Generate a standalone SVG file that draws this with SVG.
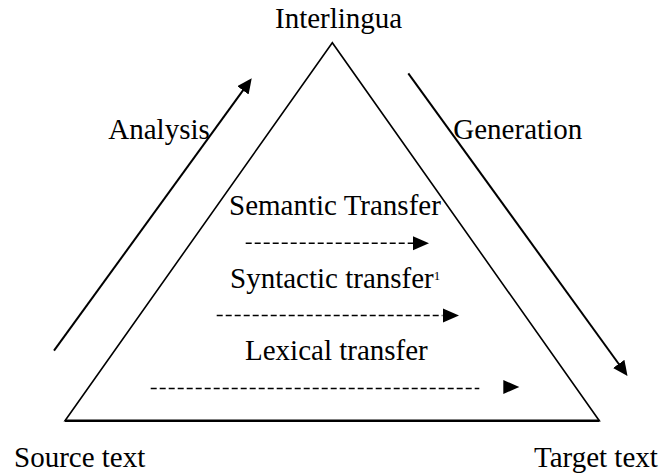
<svg xmlns="http://www.w3.org/2000/svg" xmlns:xlink="http://www.w3.org/1999/xlink" width="666" height="473" viewBox="0 0 666 473">
<style>
text{font-family:"Liberation Serif","Times New Roman",serif;font-size:29px;fill:#000}
.sup{font-size:13px}
.solid{stroke:#000;stroke-width:2;fill:none}
.dash{stroke:#000;stroke-width:1.6;fill:none;stroke-dasharray:6 3}
.tri{stroke:#000;stroke-width:1.6;fill:none;stroke-linejoin:miter}
</style>
<defs>
<marker id="arr" markerUnits="userSpaceOnUse" markerWidth="16" markerHeight="14" refX="10" refY="7" orient="auto">
<path d="M0,0 L15,7 L0,14 z" fill="#000"/>
</marker>
<path id="head" d="M0,-7 L16,0 L0,7 z" fill="#000"/>
</defs>
<rect width="666" height="473" fill="#fff"/>
<g id="triangle">
<polygon class="tri" points="332.3,42.7 65,420.7 599.3,420.7"/>
<line x1="65" y1="420.7" x2="599.3" y2="420.7" stroke="#000" stroke-width="2.4"/>
</g>
<g id="interlingua"><text x="275" y="28.3">Interlingua</text></g>
<g id="source"><text x="14" y="466.7">Source text</text></g>
<g id="target"><text x="534" y="466.7">Target text</text></g>
<g id="connectors">
<line class="solid" x1="54" y1="350.7" x2="248.8" y2="82.3" marker-end="url(#arr)"/>
<line class="solid" x1="408.3" y1="73.3" x2="624.6" y2="372" marker-end="url(#arr)"/>
<line class="dash" x1="245.7" y1="243.3" x2="413" y2="243.3"/>
<use xlink:href="#head" x="413" y="243.3"/>
<line class="dash" x1="216.7" y1="315.5" x2="442.5" y2="315.5"/>
<use xlink:href="#head" x="443" y="315.5"/>
<line class="dash" x1="150.7" y1="388.5" x2="479.3" y2="388.5"/>
<use xlink:href="#head" x="503.3" y="387"/>
</g>
<g id="labels">
<text x="108.3" y="139.3">Analysis</text>
<text x="453.3" y="139.3">Generation</text>
<text x="229" y="215">Semantic Transfer</text>
<text x="230" y="288.3">Syntactic transfer<tspan class="sup" dy="-8.3">1</tspan></text>
<text x="245" y="360">Lexical transfer</text>
</g>
</svg>
